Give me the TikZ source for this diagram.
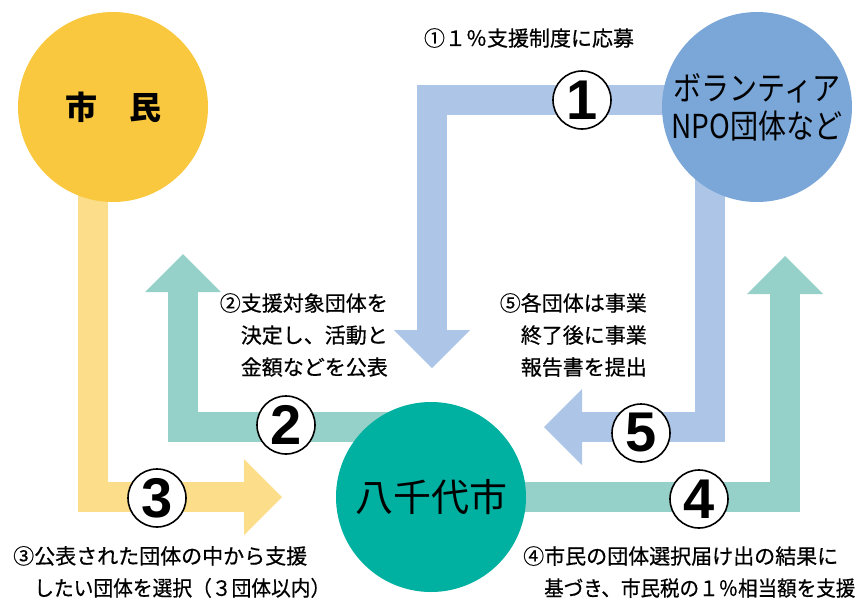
\documentclass[tikz,border=0pt]{standalone}
\usepackage{fontspec}
\setmainfont{Noto Sans CJK JP}
\newfontfamily\notefont[FakeBold=0.6]{Noto Sans CJK JP}
\newfontfamily\numfont{Liberation Sans}
\usepackage{graphicx}
\usetikzlibrary{arrows.meta}

\definecolor{citizen}{HTML}{F9C83E}
\definecolor{citizenl}{HTML}{FBDD8A}
\definecolor{city}{HTML}{00B0A0}
\definecolor{cityl}{HTML}{96D1C9}
\definecolor{npo}{HTML}{7BA7D8}
\definecolor{npol}{HTML}{ADC6E8}

\tikzset{
  actor/.style={circle, minimum size=190pt, inner sep=0pt},
  stepnum/.style={circle, draw=black, line width=1.6pt, fill=white,
    minimum size=58pt, inner sep=0pt,
    font=\numfont\bfseries\fontsize{56}{56}\selectfont},
  flow/.style={line width=30pt, line join=miter,
    -{Triangle[width=76pt,length=38pt,line width=0pt]}},
  note/.style={font=\notefont\fontsize{21}{32}\selectfont, inner sep=0pt},
}

\begin{document}
\begin{tikzpicture}[x=1pt,y=-1pt]
    \useasboundingbox (0,0) rectangle (860,598);

    % flow arrows (ends hidden under the circles)
    \coordinate (s1) at (700,100);  \coordinate (t1) at (432,368);
    \coordinate (s2) at (400,427);  \coordinate (t2) at (183,254);
    \coordinate (s3) at (93,160);   \coordinate (t3) at (282,497);
    \coordinate (s4) at (480,497);  \coordinate (t4) at (785,256);
    \coordinate (s5) at (710,160);  \coordinate (t5) at (544,427);

    \draw[flow, npol] (s1) -| (t1);
    \draw[flow, cityl] (s2) -| (t2);
    \draw[flow, citizenl] (s3) |- (t3);
    \draw[flow, cityl] (s4) -| (t4);
    \draw[flow, npol] (s5) |- (t5);

    % actors
    \node[actor, fill=citizen, font=\bfseries\fontsize{32}{32}\selectfont] (citizen) at (113,107) {市　民};
    \node[actor, fill=npo, align=center, font=\fontsize{33}{38}\selectfont] (npo) at (757,107)
        {\scalebox{0.85}[1]{ボランティア}\\\scalebox{0.85}[1]{NPO団体など}};
    \node[actor, fill=city, font=\fontsize{38}{38}\selectfont] (city) at (431,497) {八千代市};

    % step numbers
    \node[stepnum] (n1) at (582,100) {1};
    \node[stepnum] (n2) at (286,425) {2};
    \node[stepnum] (n3) at (157,498) {3};
    \node[stepnum] (n4) at (699,499) {4};
    \node[stepnum] (n5) at (641,433) {5};

    % notes
    \node[note] (lab1) at (529,38) {①１％支援制度に応募};
    \node[note, anchor=east, align=right] (lab2) at (388,335)
        {②支援対象団体を\\決定し、活動と\\金額などを公表};
    \node[note, anchor=east, align=right] (lab5) at (647,335)
        {⑤各団体は事業\\終了後に事業\\報告書を提出};
    \node[note, anchor=west, align=left] (lab3) at (13,572)
        {③公表された団体の中から支援\\\hspace*{1em}\scalebox{0.94}[1]{したい団体を選択（３団体以内）}};
    \node[note, anchor=west, align=left] (lab4) at (523,572)
        {④市民の団体選択届け出の結果に\\\hspace*{1em}\scalebox{0.93}[1]{基づき、市民税の１％相当額を支援}};
\end{tikzpicture}
\end{document}
